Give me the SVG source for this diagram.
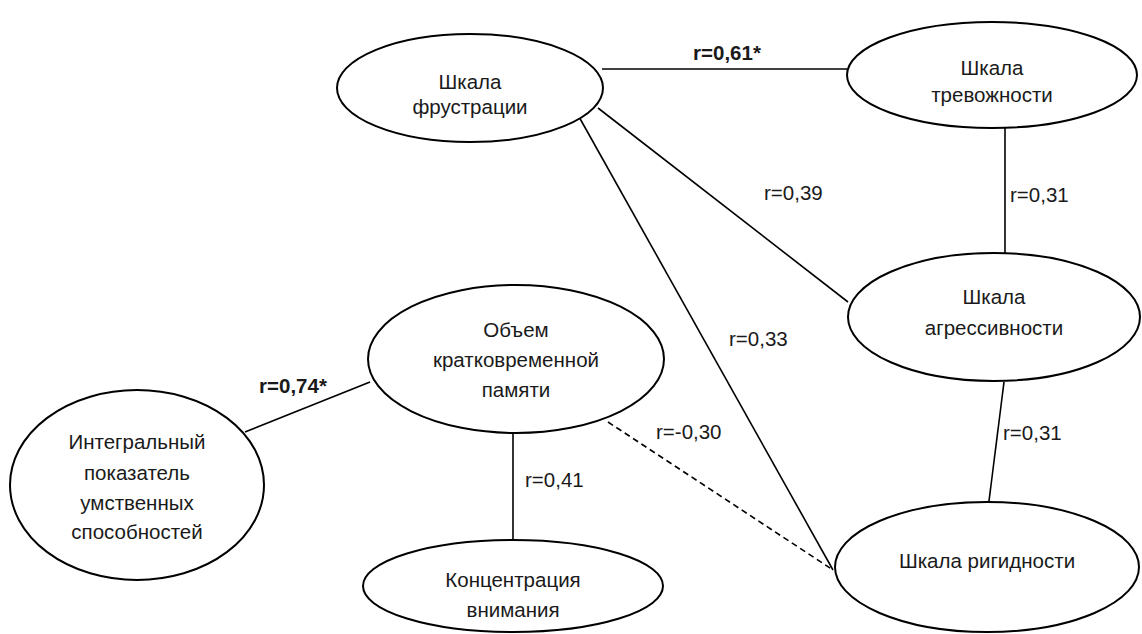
<svg xmlns="http://www.w3.org/2000/svg" width="1142" height="634" viewBox="0 0 1142 634">
<style>
.n{fill:#fff;stroke:#000;stroke-width:2}
.t{font-family:"Liberation Sans",Arial,sans-serif;font-size:20.5px;fill:#1a1a1a;text-anchor:middle}
.l{font-family:"Liberation Sans",Arial,sans-serif;font-size:20.5px;fill:#1a1a1a}
.b{font-weight:bold}
.e{stroke:#000;stroke-width:1.6;fill:none}
.d{stroke-dasharray:6 4}
</style>
<rect width="1142" height="634" fill="#fff"/>
<g id="connectors">
<line class="e" x1="602" y1="69" x2="847" y2="69"/>
<line class="e" x1="1005" y1="128" x2="1005" y2="253"/>
<line class="e" x1="598" y1="108" x2="848" y2="302"/>
<line class="e" x1="578" y1="115" x2="833" y2="570"/>
<line class="e" x1="1004" y1="382" x2="989" y2="501"/>
<line class="e" x1="245" y1="432" x2="370" y2="382"/>
<line class="e" x1="513" y1="433" x2="513" y2="540"/>
<line class="e d" x1="608" y1="422" x2="833" y2="570"/>
<text class="l b" x="727" y="60" text-anchor="middle">r=0,61*</text>
<text class="l" x="1010" y="202">r=0,31</text>
<text class="l" x="764" y="200">r=0,39</text>
<text class="l" x="729" y="346">r=0,33</text>
<text class="l" x="1003" y="440">r=0,31</text>
<text class="l" x="656" y="439">r=-0,30</text>
<text class="l" x="525" y="487">r=0,41</text>
<text class="l b" x="293" y="393" text-anchor="middle">r=0,74*</text>
</g>
<g id="frustration">
<ellipse class="n" cx="470" cy="88" rx="133" ry="54"/>
<text class="t" x="470" y="89">Шкала</text>
<text class="t" x="470" y="114">фрустрации</text>
</g>
<g id="anxiety">
<ellipse class="n" cx="992" cy="75" rx="145" ry="53"/>
<text class="t" x="992" y="75">Шкала</text>
<text class="t" x="992" y="102">тревожности</text>
</g>
<g id="aggression">
<ellipse class="n" cx="994" cy="317" rx="146" ry="64"/>
<text class="t" x="994" y="304">Шкала</text>
<text class="t" x="994" y="335">агрессивности</text>
</g>
<g id="rigidity">
<ellipse class="n" cx="987" cy="567" rx="152" ry="65"/>
<text class="t" x="987" y="568">Шкала ригидности</text>
</g>
<g id="memory">
<ellipse class="n" cx="516" cy="359" rx="148" ry="74"/>
<text class="t" x="516" y="337">Объем</text>
<text class="t" x="516" y="367">кратковременной</text>
<text class="t" x="516" y="397">памяти</text>
</g>
<g id="attention">
<ellipse class="n" cx="513" cy="586" rx="150" ry="46"/>
<text class="t" x="513" y="587">Концентрация</text>
<text class="t" x="513" y="617">внимания</text>
</g>
<g id="integral">
<ellipse class="n" cx="137" cy="485" rx="127" ry="95"/>
<text class="t" x="137" y="449">Интегральный</text>
<text class="t" x="137" y="480">показатель</text>
<text class="t" x="137" y="510">умственных</text>
<text class="t" x="137" y="539">способностей</text>
</g>
</svg>
